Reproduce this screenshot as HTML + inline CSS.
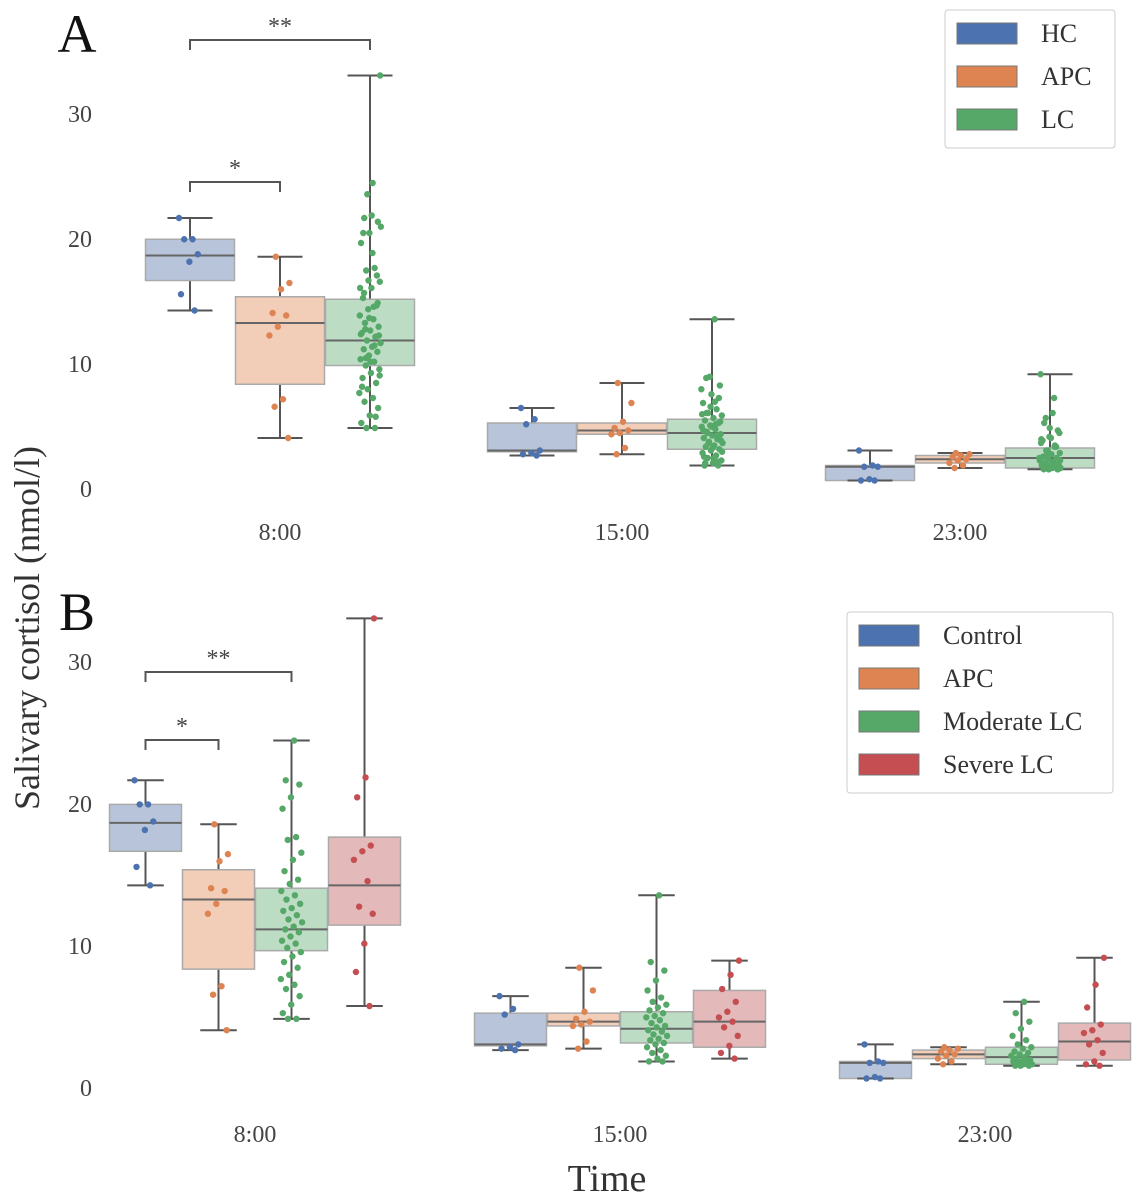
<!DOCTYPE html>
<html><head><meta charset="utf-8">
<style>
html,body{margin:0;padding:0;background:#fff;}
svg{display:block;font-family:"Liberation Serif",serif;}
</style></head>
<body>
<svg id="chart" width="1136" height="1200" viewBox="0 0 1136 1200"></svg>
<script>
// ---------- DATA ----------
const times = ["8:00","15:00","23:00"];
const groupsA = ["HC","APC","LC"];
const groupsB = ["Control","APC","Moderate LC","Severe LC"];
const yTicks = [0,10,20,30];
// box stats: [whiskerLow, q1, median, q3, whiskerHigh] per time per group
const statsA = [
  [[14.2,16.6,18.6,19.9,21.6],[4.0,8.3,13.2,15.3,18.5],[4.8,9.8,11.8,15.1,33.0]],
  [[2.6,2.9,3.0,5.2,6.4],[2.7,4.3,4.6,5.2,8.4],[1.8,3.1,4.4,5.5,13.5]],
  [[0.6,0.6,1.7,1.8,3.0],[1.6,2.0,2.3,2.6,2.8],[1.5,1.6,2.4,3.2,9.1]]
];
const statsB = [
  [[14.2,16.6,18.6,19.9,21.6],[4.0,8.3,13.2,15.3,18.5],[4.8,9.6,11.1,14.0,24.4],[5.7,11.4,14.2,17.6,33.0]],
  [[2.6,2.9,3.0,5.2,6.4],[2.7,4.3,4.6,5.2,8.4],[1.8,3.1,4.1,5.3,13.5],[2.0,2.8,4.6,6.8,8.9]],
  [[0.6,0.6,1.7,1.8,3.0],[1.6,2.0,2.3,2.6,2.8],[1.5,1.6,2.1,2.8,6.0],[1.5,1.9,3.2,4.5,9.1]]
];
// observations
const hc8 = [21.6,19.9,19.9,18.7,18.1,15.5,14.2];
const apc8 = [18.5,16.4,15.9,14.0,13.8,12.9,12.2,7.1,6.5,4.0];
const mod8 = [24.4,21.6,21.3,20.4,19.6,17.6,17.4,16.5,16.0,15.2,14.6,14.3,13.8,13.5,13.2,12.9,12.6,12.4,12.1,11.8,11.6,11.3,11.1,10.9,10.6,10.3,10.1,9.8,9.5,9.2,8.8,8.4,7.9,7.6,7.2,6.9,6.4,5.8,5.2,4.8,4.8];
const sev8 = [33.0,21.8,20.4,17.0,16.6,16.0,14.5,12.7,12.2,10.1,8.1,5.7];
const lc8 = mod8.concat(sev8).concat([23.5,20.9,18.8,15.6,14.8,13.6,12.3,11.4,10.4,9.0]);
const hc15 = [6.4,5.5,5.1,3.0,2.8,2.7,2.6];
const apc15 = [8.4,6.8,5.3,4.8,4.6,4.4,4.3,3.2,2.7];
const mod15 = [13.5,8.8,8.2,7.5,6.8,6.3,6.0,5.8,5.6,5.4,5.2,5.0,4.9,4.7,4.5,4.3,4.2,4.0,3.9,3.7,3.6,3.4,3.3,3.1,3.0,2.8,2.6,2.4,2.2,2.0,1.8,1.8];
const sev15 = [8.9,7.9,6.9,6.0,5.3,4.9,4.6,4.2,3.6,2.9,2.4,2.0];
const lc15 = mod15.concat(sev15).concat([7.2,6.5,5.9,5.1,4.4,3.8,3.2,2.5,2.1]);
const hc23 = [3.0,1.8,1.7,1.7,0.7,0.6,0.6];
const apc23 = [2.8,2.7,2.6,2.5,2.3,2.2,2.0,1.8,1.6];
const mod23 = [6.0,5.2,4.6,4.1,3.6,3.3,3.0,2.8,2.7,2.5,2.4,2.3,2.2,2.1,2.0,1.9,1.8,1.8,1.7,1.7,1.6,1.6,1.5,1.5,1.5];
const sev23 = [9.1,7.2,5.6,4.4,4.0,3.8,3.3,3.0,2.4,1.8,1.6,1.5];
const lc23 = mod23.concat(sev23).concat([4.8,3.9,3.4,2.6,2.2,1.9,1.7,1.6,1.5]);
const ptsA = [[hc8,apc8,lc8],[hc15,apc15,lc15],[hc23,apc23,lc23]];
const ptsB = [[hc8,apc8,mod8,sev8],[hc15,apc15,mod15,sev15],[hc23,apc23,mod23,sev23]];

// ---------- STYLE / LAYOUT ----------
const colors = ["#4c72b0","#dd8452","#55a868","#c44e52"];
const fills = ["#b8c4d9","#f2cdb7","#bcdcc3","#e4b9ba"];
const NS = "http://www.w3.org/2000/svg";
const svg = document.getElementById("chart");
function mk(tag, attrs, parent){
  const e = document.createElementNS(NS, tag);
  for (const k in attrs) e.setAttribute(k, attrs[k]);
  (parent||svg).appendChild(e);
  return e;
}
const panels = [
  {y0:488, ppu:12.5, centers:[280,622,960], bw:90, groups:groupsA, stats:statsA, pts:ptsA, lab:"A", labY:52, tickY:540,
   legend:{x:945,y:10,w:170,h:138,rowH:43,fs:26}},
  {y0:1087, ppu:14.2, centers:[255,620,985], bw:73, groups:groupsB, stats:statsB, pts:ptsB, lab:"B", labY:630, tickY:1142,
   legend:{x:847,y:612,w:266,h:181,rowH:43,fs:26}}
];

panels.forEach((P, pi) => {
  const g = mk("g", {});
  
  
  const yS = v => P.y0 - v * P.ppu;
  const n = P.groups.length;
  yTicks.forEach(t => {
    const tx = mk("text", {x:92, y:yS(t)+9, "text-anchor":"end", "font-size":24, fill:"#444"}, g);
    tx.textContent = t;
    
    
  });
  times.forEach((t, ti) => {
    const tx = mk("text", {x:P.centers[ti], y:P.tickY, "text-anchor":"middle", "font-size":24, fill:"#444"}, g);
    tx.textContent = t;
    
    
  });
  const pl = mk("text", {x:77, y:P.labY, "text-anchor":"middle", "font-size":54, fill:"#111"}, g);
  pl.textContent = P.lab;
  
  

  times.forEach((t, ti) => {
    for (let gi = 0; gi < n; gi++) {
      const cx = P.centers[ti] + (gi - (n-1)/2) * P.bw;
      const s = P.stats[ti][gi];
      const bg = mk("g", {}, g);
      
      
      const hw = P.bw/2 - 0.5, cw = P.bw/4;
      mk("line", {x1:cx, x2:cx, y1:yS(s[0]), y2:yS(s[4]), stroke:"#555", "stroke-width":2}, bg);
      mk("rect", {x:cx-hw, y:yS(s[3]), width:2*hw, height:Math.max(1,yS(s[1])-yS(s[3])), fill:fills[gi], stroke:"#aaa", "stroke-width":1.5}, bg);
      mk("line", {x1:cx-hw, x2:cx+hw, y1:yS(s[2]), y2:yS(s[2]), stroke:"#666", "stroke-width":2}, bg);
      mk("line", {x1:cx-cw, x2:cx+cw, y1:yS(s[0]), y2:yS(s[0]), stroke:"#555", "stroke-width":2}, bg);
      mk("line", {x1:cx-cw, x2:cx+cw, y1:yS(s[4]), y2:yS(s[4]), stroke:"#555", "stroke-width":2}, bg);
      const pts = P.pts[ti][gi];
      pts.forEach((v, k) => {
        const j = (((k * 0.618034 + gi*0.31) % 1) - 0.5) * 22;
        const c = mk("circle", {cx:cx + j, cy:yS(v), r:3.2, fill:colors[gi]}, bg);
        
        
      });
    }
  });

  const c0 = P.centers[0] - (n-1)/2 * P.bw;
  const brk = pi === 0
    ? [{x1:c0, x2:c0+2*P.bw, y:40, txt:"**"}, {x1:c0, x2:c0+P.bw, y:182, txt:"*"}]
    : [{x1:c0, x2:c0+2*P.bw, y:672, txt:"**"}, {x1:c0, x2:c0+P.bw, y:740, txt:"*"}];
  brk.forEach(b => {
    const bgp = mk("g", {}, g);
    
    
    mk("path", {d:`M${b.x1},${b.y+10}V${b.y}H${b.x2}V${b.y+10}`, fill:"none", stroke:"#555", "stroke-width":2}, bgp);
    const tx = mk("text", {x:(b.x1+b.x2)/2, y:b.y-6, "text-anchor":"middle", "font-size":24, fill:"#444"}, bgp);
    tx.textContent = b.txt;
  });

  const L = P.legend;
  const lg = mk("g", {}, g);
  
  
  mk("rect", {x:L.x, y:L.y, width:L.w, height:L.h, fill:"#fff", stroke:"#ccc", "stroke-width":1, rx:3}, lg);
  P.groups.forEach((name, gi) => {
    const e = mk("g", {}, lg);
    
    
    const ry = L.y + 13 + gi * L.rowH;
    mk("rect", {x:L.x+12, y:ry, width:60, height:21, fill:colors[gi], stroke:"#777", "stroke-width":1}, e);
    const tx = mk("text", {x:L.x+96, y:ry+19, "font-size":L.fs, fill:"#333"}, e);
    tx.textContent = name;
  });
});

const yt = mk("text", {x:0, y:0, transform:"translate(39,628) rotate(-90)", "text-anchor":"middle", "font-size":36, fill:"#333"});
yt.textContent = "Salivary cortisol (nmol/l)";


const xt = mk("text", {x:607, y:1191, "text-anchor":"middle", "font-size":38, fill:"#333"});
xt.textContent = "Time";


</script>
</body></html>
